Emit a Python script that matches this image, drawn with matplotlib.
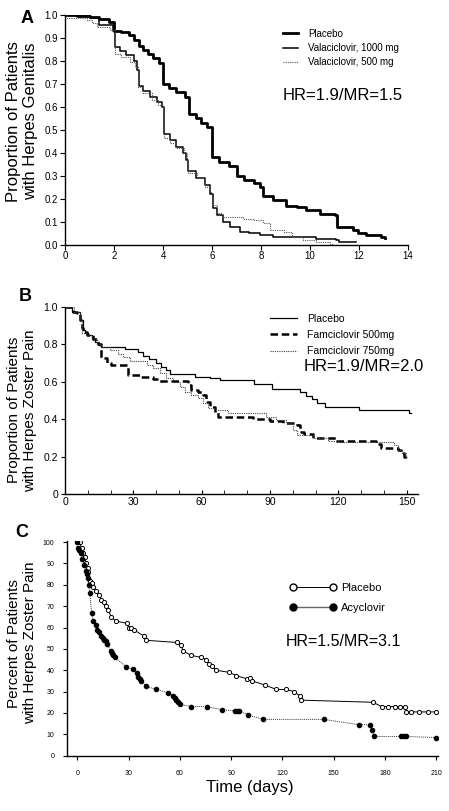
import numpy as np
import matplotlib
matplotlib.use("Agg")
import matplotlib.pyplot as plt
from matplotlib.lines import Line2D

plt.rcParams['font.family'] = ['Liberation Sans', 'DejaVu Sans']

# --- panel A: herpes genitalis (days) ---
plac_a_t = [0, 0.5, 1.0, 1.4, 1.8, 2.0, 2.3, 2.6, 2.8, 3.0, 3.2, 3.4, 3.6, 3.85, 4.0,
            4.25, 4.55, 4.9, 5.05, 5.35, 5.55, 5.8, 6.0, 6.3, 6.7, 7.0, 7.3, 7.7, 7.95,
            8.1, 8.5, 9.0, 9.45, 9.85, 10.4, 11.0, 11.1, 11.75, 11.95, 12.3, 12.9, 13.05]
plac_a_s = [1.0, 0.995, 0.99, 0.98, 0.97, 0.93, 0.925, 0.91, 0.89, 0.865, 0.845, 0.83,
            0.81, 0.79, 0.70, 0.68, 0.665, 0.64, 0.57, 0.55, 0.53, 0.51, 0.38, 0.36,
            0.34, 0.30, 0.28, 0.27, 0.25, 0.21, 0.195, 0.17, 0.165, 0.15, 0.135, 0.13,
            0.075, 0.064, 0.052, 0.042, 0.035, 0.028]
v1000_t = [0, 1.0, 1.4, 1.95, 2.05, 2.25, 2.5, 2.8, 2.92, 3.0, 3.2, 3.45, 3.75, 3.95,
           4.02, 4.3, 4.55, 4.8, 4.95, 5.03, 5.35, 5.7, 5.9, 6.02, 6.2, 6.45, 6.75, 7.15,
           7.5, 7.95, 8.5, 9.3, 10.25, 11.05, 11.2, 11.87]
v1000_s = [1.0, 0.985, 0.955, 0.93, 0.86, 0.84, 0.825, 0.80, 0.76, 0.69, 0.67, 0.64,
           0.62, 0.60, 0.48, 0.455, 0.425, 0.40, 0.37, 0.32, 0.29, 0.26, 0.22, 0.16,
           0.13, 0.10, 0.078, 0.057, 0.05, 0.04, 0.035, 0.032, 0.026, 0.02, 0.012, 0.012]
v500_t = [0, 0.07, 0.9, 1.1, 1.3, 1.85, 2.04, 2.3, 2.65, 2.85, 2.96, 3.2, 3.55, 3.8,
          3.98, 4.04, 4.3, 4.55, 4.85, 4.96, 5.04, 5.37, 5.7, 5.9, 6.0, 6.2, 6.4, 6.85,
          7.25, 7.7, 8.1, 8.35, 8.95, 9.25, 9.7, 10.25, 10.8, 10.95, 13.1]
v500_s = [1.0, 0.985, 0.977, 0.963, 0.948, 0.933, 0.83, 0.817, 0.795, 0.774, 0.687,
          0.658, 0.629, 0.607, 0.571, 0.462, 0.44, 0.419, 0.397, 0.368, 0.31, 0.288,
          0.252, 0.23, 0.172, 0.136, 0.122, 0.119, 0.112, 0.107, 0.093, 0.064, 0.057,
          0.035, 0.02, 0.013, 0.003, 0.0, 0.0]

# --- panel B: zoster pain, famciclovir ---
plac_b_t = [0, 3, 6.6, 7.7, 8.7, 10.2, 11.7, 13.1, 14.6, 16, 26.3, 32, 34.2, 37, 40,
            42.2, 44.5, 46, 57, 63.5, 68, 83, 91, 103, 106, 108.3, 110.5, 114, 129, 151, 152]
plac_b_s = [1.0, 0.97, 0.93, 0.875, 0.857, 0.85, 0.83, 0.813, 0.795, 0.783, 0.775,
            0.756, 0.738, 0.72, 0.70, 0.68, 0.662, 0.64, 0.626, 0.617, 0.608, 0.587,
            0.56, 0.543, 0.523, 0.505, 0.488, 0.466, 0.448, 0.43, 0.43]
f500_t = [0, 3.7, 5.1, 6.6, 7.3, 8.0, 9.5, 12.4, 14.6, 16, 18.3, 20.4, 27.7, 32.9, 38.7,
          40.9, 54, 55.5, 58.4, 60.6, 62, 63.5, 65.7, 67, 82.5, 90, 95.7, 102, 103, 105,
          108.8, 119, 136.6, 138.7, 146, 147.5, 149, 150]
f500_s = [1.0, 0.973, 0.964, 0.93, 0.884, 0.867, 0.85, 0.83, 0.80, 0.724, 0.70, 0.69,
          0.635, 0.626, 0.612, 0.605, 0.58, 0.555, 0.546, 0.528, 0.493, 0.466, 0.44,
          0.413, 0.40, 0.39, 0.377, 0.368, 0.333, 0.318, 0.30, 0.285, 0.267, 0.244,
          0.235, 0.22, 0.196, 0.196]
f750_t = [0, 4.0, 6.6, 7.5, 9.0, 12.0, 14.0, 16.0, 19.7, 23.4, 25.6, 28.5, 35.8, 38.7,
          41.6, 44.5, 47.5, 50.4, 52.6, 55.5, 58.4, 60.6, 62.8, 66.5, 71.6, 88.4, 92.7,
          97, 100, 102, 108.8, 115.4, 120.5, 144.6, 146, 148, 149.7, 150]
f750_s = [1.0, 0.97, 0.93, 0.86, 0.85, 0.83, 0.80, 0.783, 0.77, 0.75, 0.73, 0.71, 0.69,
          0.675, 0.645, 0.617, 0.60, 0.573, 0.546, 0.528, 0.51, 0.484, 0.457, 0.448,
          0.43, 0.413, 0.395, 0.377, 0.342, 0.315, 0.297, 0.285, 0.28, 0.26, 0.235,
          0.217, 0.20, 0.20]

# --- panel C: zoster pain, acyclovir (percent) ---
plac_c_t = [0.5, 1.5, 2.5, 3.5, 4.5, 5, 6, 6.5, 7.5, 8.5, 9.5, 11, 13, 14, 15.5, 17, 18,
            20, 22.5, 29, 30, 31.5, 33, 39, 40.5, 58.5, 60.5, 62, 66.5, 72.5, 75.5, 77,
            79, 81, 89, 93, 99, 101, 102.5, 110, 116.5, 122, 127, 130, 131, 173, 178,
            182, 186, 189, 191.5, 192.5, 195, 200, 205, 210]
plac_c_p = [100, 100, 97, 95, 93, 90, 88, 86, 82, 81, 79, 77, 75, 73, 72, 70, 68, 65, 63,
            62, 60, 60, 59, 56, 54, 53, 52, 49, 47, 46, 45, 43, 42, 40, 39, 37.5, 36,
            36.5, 35, 33, 31, 31, 30, 28, 26, 25, 23, 23, 23, 23, 23, 20.5, 20.5, 20.5,
            20.5, 20.5]
acy_t = [0, 0.2, 1.2, 2, 3, 4, 5, 5.5, 6, 6.6, 7.4, 8.4, 9.4, 11, 11.7, 12.9, 13.6, 14.8,
         15.8, 16.8, 17.5, 19.5, 20.3, 21, 22, 28.8, 32.7, 35, 35.8, 36.6, 37.4, 40.5,
         46, 53.2, 56, 57, 58, 59, 60, 66.8, 76, 84.4, 92.2, 93.5, 94.7, 100, 108.7,
         144.2, 164.8, 171.4, 172.6, 173.4, 189.6, 190.9, 192.1, 210]
acy_p = [100, 97, 96.5, 95, 92, 89.5, 86.5, 85, 83, 80, 76, 67, 63, 61, 59, 58, 56, 55,
         54, 53.5, 52.5, 49, 48, 47, 46, 41.5, 40.5, 38.5, 37, 36, 35, 32.5, 31, 29.5,
         28, 27, 26, 25, 24, 23, 23, 21.5, 21, 21, 21, 19, 17, 17, 14.5, 14.5, 12, 9, 9,
         9, 9, 8.5]

fig = plt.figure(figsize=(4.49, 8.11), dpi=100)

def clean(ax):
    ax.spines['top'].set_visible(False)
    ax.spines['right'].set_visible(False)
    ax.spines['left'].set_linewidth(1.0)
    ax.spines['bottom'].set_linewidth(1.0)

#------------------------------------
# A
axA = fig.add_axes([0.1448, 0.6983, 0.7639, 0.2836])
axA.step(plac_a_t, plac_a_s, where='post', color='black', lw=2.0, label='Placebo')
axA.step(v1000_t, v1000_s, where='post', color='black', lw=1.1, label='Valaciclovir, 1000 mg')
axA.step(v500_t, v500_s, where='post', color='#555555', lw=0.8, ls=(0, (1, 1)),
         label='Valaciclovir, 500 mg')
axA.set_xlim(0, 14)
axA.set_ylim(0, 1.0)
axA.set_xticks(np.arange(0, 15, 2))
axA.set_yticks(np.arange(0, 1.01, 0.1))
axA.set_yticklabels(['%.1f' % v for v in np.arange(0, 1.01, 0.1)])
axA.tick_params(labelsize=7, length=3.5, width=0.8, pad=1.5)
axA.tick_params(axis='x', pad=0.8)
clean(axA)
axA.legend(loc='upper left', bbox_to_anchor=(0.62, 0.96), frameon=False, fontsize=7,
           handlelength=1.6, handletextpad=1.0, labelspacing=0.45, borderpad=0)
axA.text(0.81, 0.65, 'HR=1.9/MR=1.5', transform=axA.transAxes, ha='center', va='center',
         fontsize=12)

#------------------------------------
# B
axB = fig.add_axes([0.1448, 0.3909, 0.7862, 0.2309])
axB.step(plac_b_t, plac_b_s, where='post', color='black', lw=0.9, label='Placebo')
axB.step(f500_t, f500_s, where='post', color='black', lw=1.8, ls=(0, (3, 1.5)),
         label='Famciclovir 500mg')
axB.step(f750_t, f750_s, where='post', color='#444444', lw=0.8, ls=(0, (1, 1)),
         label='Famciclovir 750mg')
axB.set_xlim(0, 155)
axB.set_ylim(0, 1.0)
axB.set_xticks(np.arange(0, 151, 30))
axB.set_xticks(np.arange(0, 151, 10), minor=True)
axB.set_yticks([0, 0.2, 0.4, 0.6, 0.8, 1.0])
axB.set_yticklabels(['0', '0.2', '0.4', '0.6', '0.8', '1.0'])
axB.tick_params(labelsize=7.5, length=3, width=0.8, pad=2)
axB.tick_params(axis='x', which='both', direction='in', length=3)
clean(axB)
axB.legend(loc='upper left', bbox_to_anchor=(0.565, 0.99), frameon=False, fontsize=7.5,
           handlelength=2.6, handletextpad=1.0, labelspacing=0.6, borderpad=0)
axB.text(0.845, 0.68, 'HR=1.9/MR=2.0', transform=axB.transAxes, ha='center', va='center',
         fontsize=12)

#------------------------------------
# C
axC = fig.add_axes([0.1492, 0.0682, 0.8263, 0.2647])
axC.plot(plac_c_t, plac_c_p, color='black', lw=0.7, marker='o', ms=3.0, mfc='white',
         mec='black', mew=0.7, label='Placebo')
axC.plot(acy_t, acy_p, color='#333333', lw=0.7, ls=(0, (1, 1)), marker='o', ms=3.0,
         mfc='black', mec='black', label='Acyclovir')
axC.set_xlim(-6, 211)
axC.set_ylim(0, 100.5)
axC.set_xticks(np.arange(0, 211, 30))
axC.set_yticks(np.arange(0, 101, 10))
axC.tick_params(labelsize=5, length=3, width=0.8)
axC.tick_params(axis='x', pad=7.5)
axC.tick_params(axis='y', pad=6)
clean(axC)
hC = [Line2D([0], [0], color='black', lw=0.7, marker='o', ms=5, mfc='white', mec='black',
             markevery=[0, 1]),
      Line2D([0], [0], color='#666666', lw=1.0, marker='o', ms=5, mfc='black', mec='black',
             markevery=[0, 1])]
axC.legend(hC, ['Placebo', 'Acyclovir'], loc='upper left', bbox_to_anchor=(0.585, 0.83),
           frameon=False, fontsize=8, handlelength=4.2, handletextpad=0.4,
           labelspacing=0.9, borderpad=0, numpoints=2)
axC.text(0.745, 0.53, 'HR=1.5/MR=3.1', transform=axC.transAxes, ha='center', va='center',
         fontsize=11.5)

#------------------------------------
# rótulos
fig.text(0.060, 0.977, 'A', fontsize=13, fontweight='bold', ha='center', va='center')
fig.text(0.056, 0.634, 'B', fontsize=13, fontweight='bold', ha='center', va='center')
fig.text(0.049, 0.343, 'C', fontsize=13, fontweight='bold', ha='center', va='center')
fig.text(0.049, 0.850, 'Proportion of Patients\nwith Herpes Genitalis', rotation=90,
         ha='center', va='center', fontsize=12, linespacing=1.1)
fig.text(0.049, 0.494, 'Proportion of Patients\nwith Herpes Zoster Pain', rotation=90,
         ha='center', va='center', fontsize=11, linespacing=1.15)
fig.text(0.049, 0.207, 'Percent of Patients\nwith Herpes Zoster Pain', rotation=90,
         ha='center', va='center', fontsize=11, linespacing=1.15)
fig.text(0.557, 0.029, 'Time (days)', ha='center', va='center', fontsize=12)

fig.savefig('out.png', dpi=100)
